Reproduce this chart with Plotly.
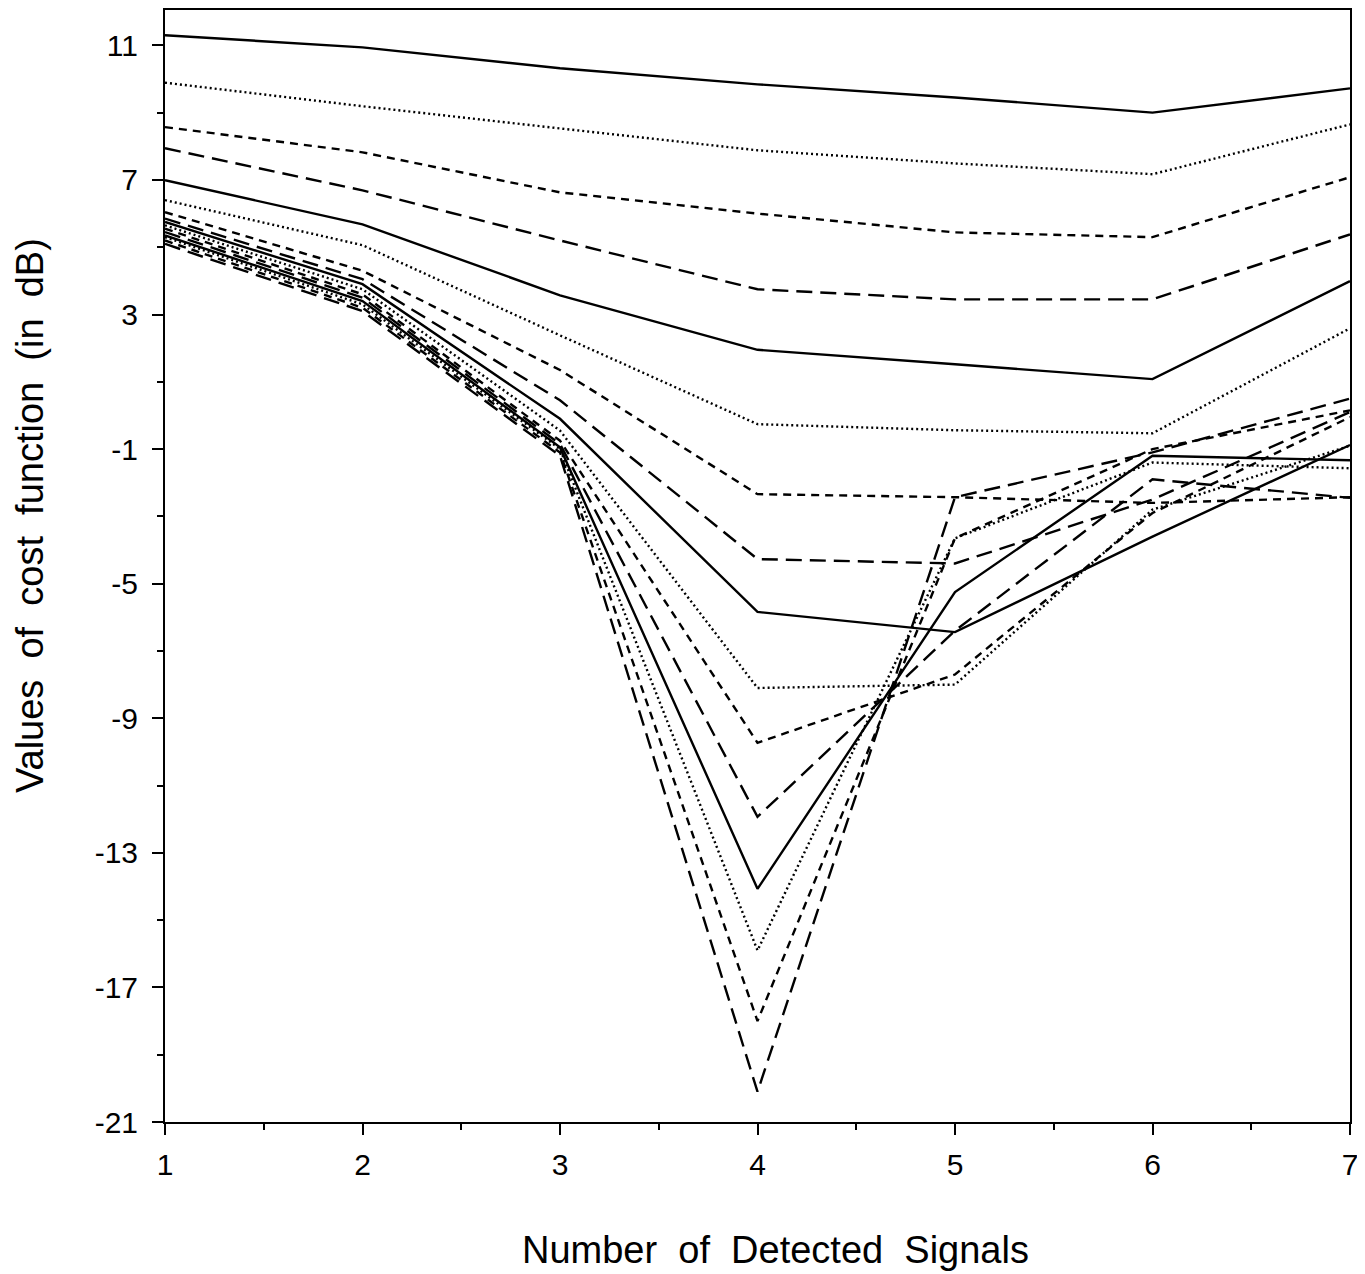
import plotly.graph_objects as go

x_signals = [1, 2, 3, 4, 5, 6, 7]

s01 = [11.3, 10.94, 10.32, 9.84, 9.45, 9.0, 9.72]
s02 = [9.89, 9.19, 8.53, 7.88, 7.49, 7.17, 8.65]
s03 = [8.57, 7.82, 6.63, 6.0, 5.44, 5.3, 7.08]
s04 = [7.94, 6.69, 5.2, 3.75, 3.45, 3.45, 5.38]
s05 = [6.99, 5.68, 3.57, 1.95, 1.52, 1.08, 3.99]
s06 = [6.4, 5.06, 2.38, -0.26, -0.44, -0.53, 2.59]
s07 = [6.04, 4.3, 1.35, -2.34, -2.43, -2.6, -2.43]
s08 = [5.85, 4.05, 0.45, -4.27, -4.4, -2.5, 0.1]
s09 = [5.75, 3.9, -0.1, -5.84, -6.44, -3.6, -0.88]
s10 = [5.65, 3.75, -0.45, -8.1, -8.0, -2.8, -0.9]
s11 = [5.55, 3.6, -0.75, -9.73, -7.7, -2.9, -0.05]
s12 = [5.45, 3.5, -0.85, -11.93, -6.4, -1.9, -2.45]
s13 = [5.35, 3.4, -0.95, -14.07, -5.25, -1.2, -1.33]
s14 = [5.3, 3.3, -1.0, -15.9, -3.65, -1.4, -1.57]
s15 = [5.2, 3.2, -1.1, -18.0, -3.65, -1.0, 0.15]
s16 = [5.1, 3.1, -1.2, -20.1, -2.43, -1.1, 0.5]

series = [s01, s02, s03, s04, s05, s06, s07, s08,
          s09, s10, s11, s12, s13, s14, s15, s16]
dash_cycle = ["solid", "2px,3px", "8px,6px", "16px,8px"]

y_tickvals = [11, 7, 3, -1, -5, -9, -13, -17, -21]

x_title = "Number  of  Detected  Signals"
y_title = "Values  of  cost  function  (in  dB)"

fig = go.Figure()
for i, s in enumerate(series):
    fig.add_trace(go.Scatter(
        x=x_signals, y=s, mode="lines",
        line=dict(color="black", width=2.4, dash=dash_cycle[i % 4]),
        showlegend=False, hoverinfo="skip"))

font_family = "Liberation Sans, Arial, sans-serif"
W, H = 1365, 1274
ML, MR, MT, MB = 157, 23, 2, 160
fig.update_layout(
    width=W, height=H,
    margin=dict(l=ML, r=MR, t=MT, b=MB, autoexpand=False),
    paper_bgcolor="white", plot_bgcolor="white",
    font=dict(family=font_family, color="black"),
)
fig.update_xaxes(
    range=[1, 7], tickvals=x_signals, ticktext=[str(v) for v in x_signals],
    ticks="outside", ticklen=11, tickwidth=2, tickcolor="black",
    showline=True, linecolor="black", linewidth=2, mirror=True,
    showgrid=False, zeroline=False,
    minor=dict(dtick=0.5, tick0=1, ticks="outside", ticklen=6, tickcolor="black", tickwidth=1.5),
    tickfont=dict(size=30), ticklabelstandoff=4,
)
fig.update_yaxes(
    range=[-21, 12.05], tickvals=y_tickvals, ticktext=[str(v) for v in y_tickvals],
    ticks="outside", ticklen=11, tickwidth=2, tickcolor="black",
    showline=True, linecolor="black", linewidth=2, mirror=True,
    showgrid=False, zeroline=False,
    minor=dict(dtick=2, tick0=-21, ticks="outside", ticklen=6, tickcolor="black", tickwidth=1.5),
    tickfont=dict(size=30), ticklabelstandoff=8,
)

# axis titles placed as annotations (pixel positions in the page frame)
def px_x(px):
    return (px - 8 - ML) / (W - ML - MR)

def px_y(py):
    return 1 - (py - 8 - MT) / (H - MT - MB)

fig.add_annotation(text=x_title, xref="paper", yref="paper",
                   x=px_x(775), y=px_y(1250), showarrow=False,
                   font=dict(size=38), xanchor="center", yanchor="middle")
fig.add_annotation(text=y_title, xref="paper", yref="paper",
                   x=px_x(30), y=px_y(516), showarrow=False, textangle=-90,
                   font=dict(size=38), xanchor="center", yanchor="middle")

fig.write_html("out.html")
